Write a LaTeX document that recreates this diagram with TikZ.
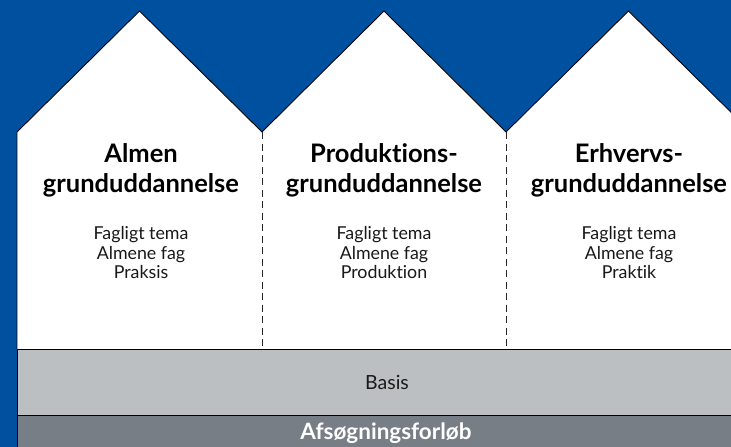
\documentclass[tikz,border=0pt]{standalone}
\usepackage{fontspec}
\setmainfont{Lato}[Ligatures=NoCommon]
\definecolor{bgblue}{HTML}{0050A0}
\definecolor{basisgray}{HTML}{BCBFC2}
\definecolor{darkgray}{HTML}{787E86}
\tikzset{
  divider/.style={draw=black!85, line width=1pt, dash pattern=on 7pt off 4.5pt},
  band/.style={draw=black, line width=1pt},
  title/.style={font=\fontsize{25.5}{30}\selectfont\bfseries, align=center, text=black, inner sep=0pt},
  body/.style={font=\fontsize{17.8}{19.5}\selectfont, align=center, text=black!90, inner sep=0pt},
}
\begin{document}
\begin{tikzpicture}[x=1pt, y=-1pt]
\useasboundingbox (0,0) rectangle (731,447);
\clip (0,0) rectangle (731,447);
\fill[bgblue] (0,0) rectangle (731,447);
% houses
\coordinate (w0) at (17,132);
\coordinate (w1) at (262,132);
\coordinate (w2) at (506,132);
\coordinate (w3) at (751,132);
\fill[white] (17,349) -- (w0) -- (139.5,11) -- (w1) -- (384,11) -- (w2) -- (628.5,11) -- (w3) -- (751,349) -- cycle;
\draw[black, line width=0.9pt] (17,349) -- (w0) -- (139.5,11) -- (w1) -- (384,11) -- (w2) -- (628.5,11) -- (w3) -- (751,349);
% dividers
\coordinate (d1) at (262,349);
\coordinate (d2) at (506,349);
\draw[divider] (w1) -- (d1);
\draw[divider] (w2) -- (d2);
% bands
\path[fill=basisgray] (17,349) rectangle (760,415);
\path[fill=darkgray] (17,415) rectangle (760,460);
\draw[band] (17,349) -- (760,349);
\draw[band] (17,415) -- (760,415);
\draw[band] (17,349) -- (17,460);
% texts
\node[title] (t1) at (141,170) {Almen\\grunduddannelse};
\node[title] (t2) at (384,170) {Produktions-\\grunduddannelse};
\node[title] (t3) at (629,170) {Erhvervs-\\grunduddannelse};
\node[body] (b1) at (141,253) {Fagligt tema\\Almene fag\\Praksis};
\node[body] (b2) at (384,253) {Fagligt tema\\Almene fag\\Produktion};
\node[body] (b3) at (629,253) {Fagligt tema\\Almene fag\\Praktik};
\node[font=\fontsize{19.5}{22}\selectfont, text=black!90, inner sep=0pt] (basis) at (387,382) {Basis};
\node[font=\fontsize{22.5}{24}\selectfont\bfseries, text=white, inner sep=0pt] (afs) at (386,433) {Afsøgningsforløb};
\end{tikzpicture}
\end{document}
